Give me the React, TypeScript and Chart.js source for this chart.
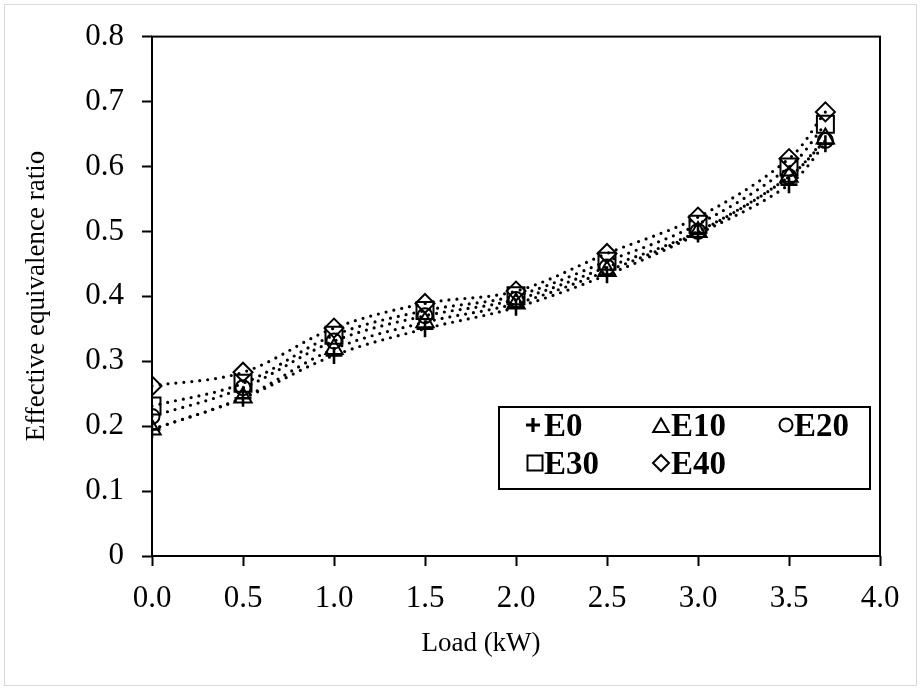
import React, { useEffect, useRef } from 'react';
import { Chart, registerables } from 'chart.js';

Chart.register(...registerables);

// Load (kW)
const loads = [0, 0.5, 1.0, 1.5, 2.0, 2.5, 3.0, 3.5, 3.7];
// Effective equivalence ratio per fuel blend
const e0 = [0.195, 0.243, 0.309, 0.35, 0.383, 0.433, 0.496, 0.572, 0.635];
const e10 = [0.195, 0.244, 0.319, 0.36, 0.389, 0.439, 0.499, 0.584, 0.643];
const e20 = [0.215, 0.259, 0.331, 0.37, 0.395, 0.445, 0.5, 0.584, 0.64];
const e30 = [0.231, 0.266, 0.34, 0.378, 0.401, 0.454, 0.511, 0.599, 0.665];
const e40 = [0.262, 0.283, 0.351, 0.389, 0.408, 0.466, 0.522, 0.612, 0.684];
const seriesNames = ['E0', 'E10', 'E20', 'E30', 'E40'];
const xTickValues = [0, 0.5, 1.0, 1.5, 2.0, 2.5, 3.0, 3.5, 4.0];
const yTickValues = [0, 0.1, 0.2, 0.3, 0.4, 0.5, 0.6, 0.7, 0.8];
const xTitle = 'Load (kW)';
const yTitle = 'Effective equivalence ratio';

const FONT = "'Liberation Serif', 'Times New Roman', serif";

function drawMarker(ctx: CanvasRenderingContext2D, style: string, x: number, y: number, r: number) {
  ctx.beginPath();
  if (style === 'cross') {
    ctx.moveTo(x - r, y);
    ctx.lineTo(x + r, y);
    ctx.moveTo(x, y - r);
    ctx.lineTo(x, y + r);
  } else if (style === 'triangle') {
    ctx.moveTo(x, y - r);
    ctx.lineTo(x + r * 0.866, y + r * 0.5);
    ctx.lineTo(x - r * 0.866, y + r * 0.5);
    ctx.closePath();
  } else if (style === 'circle') {
    ctx.arc(x, y, r, 0, Math.PI * 2);
  } else if (style === 'rect') {
    ctx.rect(x - r, y - r, 2 * r, 2 * r);
  } else if (style === 'rectRot') {
    ctx.moveTo(x, y - r);
    ctx.lineTo(x + r, y);
    ctx.lineTo(x, y + r);
    ctx.lineTo(x - r, y);
    ctx.closePath();
  }
  ctx.stroke();
}

const framePlugin = {
  id: 'frameAndLegend',
  beforeDraw(chart: any) {
    const ctx = chart.ctx as CanvasRenderingContext2D;
    ctx.save();
    ctx.fillStyle = '#ffffff';
    ctx.fillRect(0, 0, chart.width, chart.height);
    ctx.strokeStyle = '#d9d9d9';
    ctx.lineWidth = 1;
    ctx.strokeRect(4.5, 4.5, chart.width - 9, chart.height - 9);
    ctx.restore();
  },
  afterDatasetsDraw(chart: any) {
    const ctx = chart.ctx as CanvasRenderingContext2D;
    const a = chart.chartArea;
    ctx.save();
    ctx.strokeStyle = '#000';
    ctx.lineWidth = 2;
    ctx.strokeRect(a.left, a.top, a.right - a.left, a.bottom - a.top);

    // axis titles
    ctx.fillStyle = '#000';
    ctx.font = `27px ${FONT}`;
    ctx.textAlign = 'center';
    ctx.textBaseline = 'middle';
    ctx.fillText(xTitle, 481, 644);
    ctx.save();
    ctx.translate(37, 296);
    ctx.rotate(-Math.PI / 2);
    ctx.fillText(yTitle, 0, 0);
    ctx.restore();

    // legend box
    const lx = 499, ly = 407, lw = 371, lh = 82;
    ctx.fillStyle = '#fff';
    ctx.fillRect(lx, ly, lw, lh);
    ctx.strokeStyle = '#000';
    ctx.lineWidth = 2;
    ctx.strokeRect(lx, ly, lw, lh);

    const items = [
      { style: 'cross', mx: 533, my: 425, r: 7, lw: 3.2, tx: 544, ty: 425 },
      { style: 'triangle', mx: 661, my: 427.5, r: 9, lw: 2, tx: 671, ty: 425 },
      { style: 'circle', mx: 786, my: 425, r: 6.5, lw: 2, tx: 794, ty: 425 },
      { style: 'rect', mx: 535, my: 463, r: 7.5, lw: 2, tx: 544, ty: 463 },
      { style: 'rectRot', mx: 661, my: 463, r: 8, lw: 2, tx: 671, ty: 463 },
    ];
    ctx.font = `bold 33px ${FONT}`;
    ctx.textBaseline = 'alphabetic';
    ctx.textAlign = 'left';
    items.forEach((it, i) => {
      ctx.lineWidth = it.lw;
      ctx.strokeStyle = '#000';
      drawMarker(ctx, it.style, it.mx, it.my, it.r);
      ctx.fillStyle = '#000';
      ctx.fillText(seriesNames[i], it.tx, it.ty + 11);
    });
    ctx.restore();
  },
};

export default function App() {
  const ref = useRef<HTMLCanvasElement>(null);

  useEffect(() => {
    if (!ref.current) return;
    const series = [e0, e10, e20, e30, e40];
    const styles = [
      { pointStyle: 'cross', radius: 8.5, bw: 2.6 },
      { pointStyle: 'triangle', radius: 10, bw: 2 },
      { pointStyle: 'circle', radius: 7.5, bw: 2 },
      { pointStyle: 'rect', radius: 12, bw: 2 },
      { pointStyle: 'rectRot', radius: 9.5, bw: 2 },
    ];
    const datasets = series.map((s, i) => ({
      label: seriesNames[i],
      data: loads.map((x, j) => ({ x, y: s[j] })),
      showLine: true,
      borderColor: '#000',
      borderWidth: 3.2,
      borderDash: [0, 8],
      borderCapStyle: 'round' as const,
      tension: 0.35,
      pointStyle: styles[i].pointStyle as any,
      pointRadius: styles[i].radius,
      pointHoverRadius: styles[i].radius,
      pointBorderWidth: styles[i].bw,
      pointBorderColor: '#000',
      pointBackgroundColor: 'rgba(0,0,0,0)',
      fill: false,
    }));

    const chart = new Chart(ref.current, {
      type: 'scatter',
      data: { datasets },
      options: {
        responsive: false,
        animation: false,
        devicePixelRatio: 1,
        layout: { padding: { top: 27, right: 41, left: 0, bottom: 0 } },
        plugins: { legend: { display: false }, tooltip: { enabled: false } },
        scales: {
          x: {
            type: 'linear',
            min: 0,
            max: 4,
            afterBuildTicks: (scale: any) => {
              scale.ticks = xTickValues.map((v) => ({ value: v }));
            },
            afterFit: (scale: any) => {
              scale.height = 134;
            },
            ticks: {
              callback: (v: any) => Number(v).toFixed(1),
              font: { family: FONT, size: 31 },
              color: '#000',
              padding: 14,
              maxRotation: 0,
            },
            grid: {
              display: true,
              drawOnChartArea: false,
              drawTicks: true,
              tickLength: 10,
              tickWidth: 2,
              tickColor: '#000',
            },
            border: { display: false },
            title: { display: false },
          },
          y: {
            type: 'linear',
            min: 0,
            max: 0.8,
            afterBuildTicks: (scale: any) => {
              scale.ticks = yTickValues.map((v) => ({ value: v }));
            },
            afterFit: (scale: any) => {
              scale.width = 152;
            },
            ticks: {
              callback: (v: any) => (Number(v) === 0 ? '0' : Number(v).toFixed(1)),
              font: { family: FONT, size: 31 },
              color: '#000',
              padding: 18,
            },
            grid: {
              display: true,
              drawOnChartArea: false,
              drawTicks: true,
              tickLength: 10,
              tickWidth: 2,
              tickColor: '#000',
            },
            border: { display: false },
            title: { display: false },
          },
        },
      },
      plugins: [framePlugin],
    });
    return () => chart.destroy();
  }, []);

  return (
    <div style={{ position: 'absolute', left: 0, top: 0, width: 921, height: 690, background: '#fff' }}>
      <canvas ref={ref} width={921} height={690} style={{ display: 'block', width: 921, height: 690 }} />
    </div>
  );
}
